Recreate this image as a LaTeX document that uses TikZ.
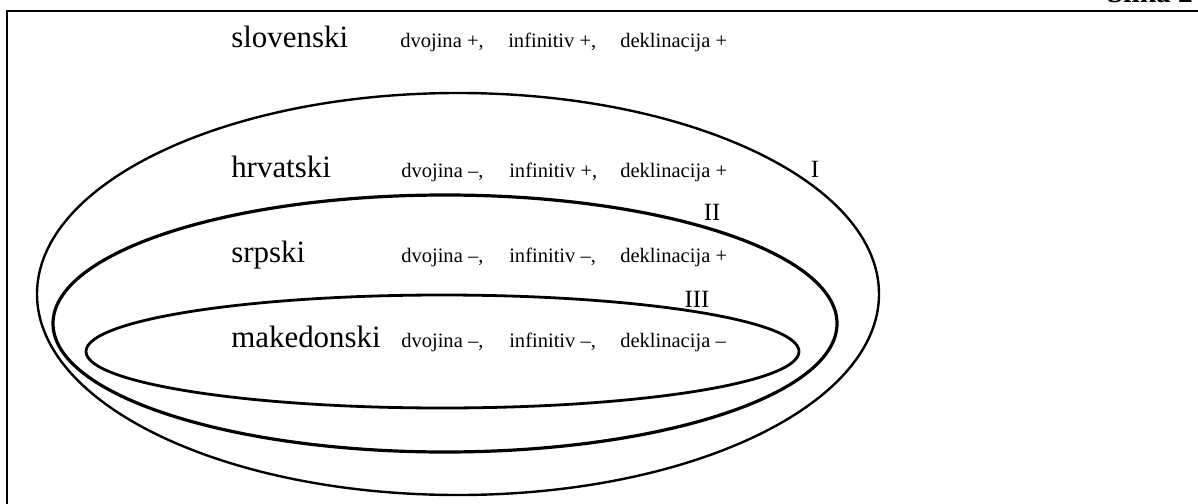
\documentclass[tikz,border=0pt]{standalone}
\usepackage{fontspec}
\setmainfont{Liberation Serif}
\begin{document}
\begin{tikzpicture}[x=0.75pt,y=-0.75pt,
  lang/.style={anchor=base west,inner sep=0pt,font=\fontsize{23.2pt}{26pt}\selectfont},
  feat/.style={anchor=base west,inner sep=0pt,font=\fontsize{15.4pt}{18pt}\selectfont},
  numeral/.style={anchor=base,inner sep=0pt,font=\fontsize{18.6pt}{21pt}\selectfont},
  ringA/.style={line width=1.8pt},
  ringB/.style={line width=2.4pt},
  ringC/.style={line width=2.1pt},
  framestyle/.style={line width=2.1pt}]
\useasboundingbox (0,0) rectangle (1198,503);
% frame
\coordinate (fTR) at (1200,11);
\coordinate (fTL) at (7,11);
\coordinate (fBL) at (7,505);
\draw[framestyle] (fTR) -- (fTL) -- (fBL);
\node[anchor=base east,inner sep=0pt,font=\bfseries\fontsize{22pt}{24pt}\selectfont] (title) at (1193,2.5) {Slika 2};
% ellipses
\draw[ringA] (458,294) ellipse [x radius=421, y radius=201];
\draw[ringB] (445,323.5) ellipse [x radius=392, y radius=128.5];
\draw[ringC] (442.5,351.5) ellipse [x radius=356.5, y radius=56.5];
% rows
\node[lang] (slo) at (231,48) {slovenski};
\node[feat] (slo1) at (400,48) {dvojina +,};
\node[feat] (slo2) at (508,48) {infinitiv +,};
\node[feat] (slo3) at (620,48) {deklinacija +};
\node[lang] (hrv) at (231,177) {hrvatski};
\node[feat] (hrv1) at (401,177) {dvojina –,};
\node[feat] (hrv2) at (509,177) {infinitiv +,};
\node[feat] (hrv3) at (620,177) {deklinacija +};
\node[lang] (srp) at (231,262) {srpski};
\node[feat] (srp1) at (401,262) {dvojina –,};
\node[feat] (srp2) at (509,262) {infinitiv –,};
\node[feat] (srp3) at (620,262) {deklinacija +};
\node[lang] (mak) at (231,347) {makedonski};
\node[feat] (mak1) at (401,347) {dvojina –,};
\node[feat] (mak2) at (509,347) {infinitiv –,};
\node[feat] (mak3) at (620,347) {deklinacija –};
% numerals
\node[numeral] (nI) at (815,177) {I};
\node[numeral] (nII) at (712,220) {II};
\node[numeral] (nIII) at (697,307) {III};
\end{tikzpicture}
\end{document}
